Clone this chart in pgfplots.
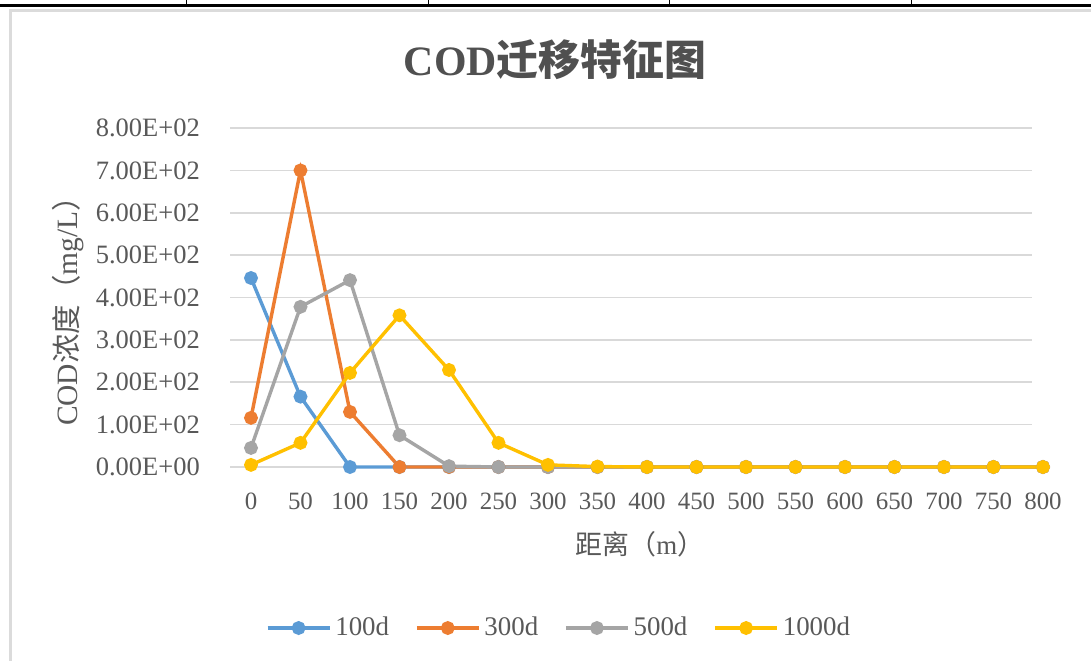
\documentclass[border=0pt]{standalone}
\usepackage{fontspec}
\setmainfont{Liberation Serif}
\newfontfamily\cjk{Noto Sans CJK SC}
\usepackage{pgfplots}
\pgfplotsset{compat=1.18}

\definecolor{sBlue}{HTML}{5B9BD5}
\definecolor{sOrange}{HTML}{ED7D31}
\definecolor{sGray}{HTML}{A5A5A5}
\definecolor{sGold}{HTML}{FFC000}
\definecolor{txt}{HTML}{595959}
\definecolor{grid}{HTML}{D9D9D9}

\begin{document}
\begin{tikzpicture}
\useasboundingbox (0,0) rectangle (545.5bp,330.5bp);
% table rule above the chart
\fill[white] (0,0) rectangle (545.5bp,330.5bp);
\draw[line width=1.75bp] (0,327.75bp) -- (545.5bp,327.75bp);
\foreach \vx in {93.25,214,334.75,455.8}
  \draw[line width=0.5bp] (\vx bp,327.5bp) -- (\vx bp,331bp);
% chart frame
\draw[black!14, line width=1.5bp] (5bp,-3bp) rectangle (552bp,325bp);

\begin{axis}[
  at={(113.125bp,97bp)}, anchor=south west,
  scale only axis, width=420.75bp, height=169.5bp,
  xmin=-25, xmax=825, ymin=0, ymax=800,
  axis line style={draw=none}, clip=false,
  xtick={0,50,...,800},
  ytick={0,100,...,800},
  yticklabels={0.00E+00,1.00E+02,2.00E+02,3.00E+02,4.00E+02,5.00E+02,6.00E+02,7.00E+02,8.00E+02},
  major tick length=0pt,
  xtick pos=bottom, ytick pos=left,
  /pgf/number format/assume math mode=true,
  tick label style={font=\fontsize{12.5}{14}\selectfont, text=txt},
  xticklabel style={anchor=north, inner sep=0pt, yshift=-13bp},
  yticklabel style={anchor=east, inner sep=0pt, xshift=-13bp, font=\fontsize{13.3}{14}\selectfont},
  title={\bfseries COD{\cjk 迁移特征图}},
  title style={at={(axis description cs:0.3907,1.165)}, anchor=center,
    font=\fontsize{21}{24}\selectfont, text=txt!90!black},
  xlabel={{\cjk 距离（}m{\cjk ）}},
  xlabel style={at={(axis description cs:0.4917,0)}, anchor=north, yshift=-32bp,
    inner sep=0pt, font=\fontsize{13.5}{15}\selectfont, text=txt},
  ylabel={COD{\cjk 浓度（}mg/L{\cjk ）}},
  ylabel style={at={(axis description cs:-0.188,0.481)}, anchor=center,
    inner sep=0pt, font=\fontsize{14.8}{16}\selectfont, text=txt},
  legend columns=4,
  legend style={at={(axis description cs:0.3966,-0.475)}, anchor=center,
    draw=none, fill=none, font=\fontsize{13.5}{15}\selectfont, text=txt,
    /tikz/every even column/.append style={column sep=11bp}},
  legend image code/.code={
    \draw[mark repeat=2, mark phase=2] plot coordinates {(0bp,0bp) (15.5bp,0bp) (31bp,0bp)};},
  every axis plot/.append style={line width=1.7bp, mark=*, mark size=2.6bp},
]
% horizontal gridlines
\pgfplotsinvokeforeach{0,100,200,300,400,500,600,700,800}{
  \draw[grid, line width=0.8bp] (axis cs:-21,#1) -- (axis cs:789,#1);
}

\addplot[color=sBlue, mark options={fill=sBlue}] coordinates {
 (0,446) (50,166) (100,0) (150,0) (200,0) (250,0) (300,0) (350,0) (400,0)
 (450,0) (500,0) (550,0) (600,0) (650,0) (700,0) (750,0) (800,0)};
\addlegendentry{100d}
\addplot[color=sOrange, mark options={fill=sOrange}] coordinates {
 (0,116) (50,700) (100,130) (150,0) (200,0) (250,0) (300,0) (350,0) (400,0)
 (450,0) (500,0) (550,0) (600,0) (650,0) (700,0) (750,0) (800,0)};
\addlegendentry{300d}
\addplot[color=sGray, mark options={fill=sGray}] coordinates {
 (0,45) (50,378) (100,441) (150,75) (200,2) (250,0) (300,0) (350,0) (400,0)
 (450,0) (500,0) (550,0) (600,0) (650,0) (700,0) (750,0) (800,0)};
\addlegendentry{500d}
\addplot[color=sGold, mark options={fill=sGold}] coordinates {
 (0,5) (50,57) (100,222) (150,358) (200,229) (250,57) (300,5) (350,1) (400,0)
 (450,0) (500,0) (550,0) (600,0) (650,0) (700,0) (750,0) (800,0)};
\addlegendentry{1000d}
\end{axis}
\end{tikzpicture}
\end{document}
